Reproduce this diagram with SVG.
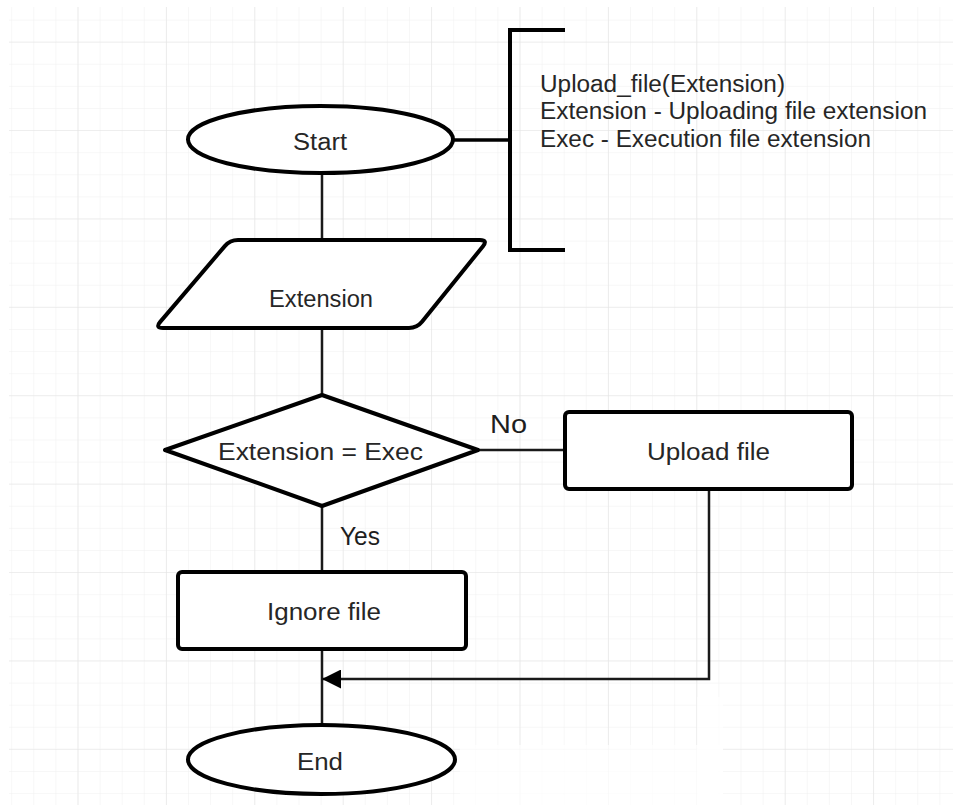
<svg xmlns="http://www.w3.org/2000/svg" width="953" height="805" viewBox="0 0 953 805">
  <defs>
    <style>
      .grid-minor { stroke: #efefef; stroke-width: 1; }
      .grid-major { stroke: #e4e4e4; stroke-width: 1.2; }
      .shape { fill: #ffffff; stroke: #000000; stroke-width: 4; stroke-linejoin: round; }
      .bracket { fill: none; stroke: #000000; stroke-width: 4; }
      .link { fill: none; stroke: #1a1a1a; stroke-width: 2.5; }
      .label { font-family: "Liberation Sans", Arial, sans-serif; font-size: 23px; fill: #262626; }
      .branch { font-family: "Liberation Sans", Arial, sans-serif; font-size: 26px; fill: #1e1e1e; }
    </style>
    <pattern id="minorGrid" x="11.2" y="19.6" width="22.1" height="22.1" patternUnits="userSpaceOnUse">
      <path d="M0,0 V22.1 M0,0 H22.1" class="grid-minor"/>
    </pattern>
    <pattern id="majorGrid" x="77.5" y="130" width="88.4" height="88.4" patternUnits="userSpaceOnUse">
      <path d="M0,0 V88.4 M0,0 H88.4" class="grid-major"/>
    </pattern>
    <marker id="arrow" viewBox="0 0 19 19" refX="18" refY="9.5" markerWidth="19" markerHeight="19" markerUnits="userSpaceOnUse" orient="auto">
      <path d="M0,0 L19,9.5 L0,19 Z" fill="#000000"/>
    </marker>
  </defs>

  <!-- page background and drawing grid -->
  <rect x="0" y="0" width="953" height="805" fill="#ffffff"/>
  <rect x="9" y="7" width="944" height="798" fill="url(#minorGrid)"/>
  <rect x="9" y="7" width="944" height="798" fill="url(#majorGrid)"/>
  <rect x="460" y="745" width="263" height="60" fill="#ffffff" opacity="0.7"/>
  <rect x="697" y="697" width="26" height="108" fill="#ffffff" opacity="0.7"/>

  <!-- connectors -->
  <g id="connectors">
    <path class="link" d="M322,173 V240"/>
    <path class="link" d="M322,328 V395"/>
    <path class="link" d="M478,450 H565"/>
    <path class="link" d="M322,506 V572"/>
    <path class="link" d="M322,649 V725"/>
    <path class="link" d="M709,489 V679 H323" marker-end="url(#arrow)"/>
    <path class="link" d="M453,140 H510" style="stroke:#000;stroke-width:3.5"/>
  </g>

  <!-- annotation bracket -->
  <g id="annotation">
    <path class="bracket" d="M565,30 H510 V250 H565"/>
    <text class="label" x="540" y="92" textLength="245" lengthAdjust="spacingAndGlyphs">Upload_file(Extension)</text>
    <text class="label" x="540" y="119" textLength="387" lengthAdjust="spacingAndGlyphs">Extension - Uploading file extension</text>
    <text class="label" x="540" y="147" textLength="331" lengthAdjust="spacingAndGlyphs">Exec - Execution file extension</text>
  </g>

  <g id="start">
    <ellipse class="shape" cx="320.5" cy="139.5" rx="132.5" ry="33.5"/>
    <text class="label" x="293" y="150" textLength="54" lengthAdjust="spacingAndGlyphs">Start</text>
  </g>

  <g id="input-extension">
    <path class="shape" d="M238,240 H480 Q488,240 483,246.2 L422,321.8 Q417,328 409,328 H163 Q155,328 160.2,321.9 L224.8,246.1 Q230,240 238,240 Z"/>
    <text class="label" x="269" y="307" textLength="104" lengthAdjust="spacingAndGlyphs">Extension</text>
  </g>

  <g id="decision">
    <path class="shape" d="M322,395 L478,450 L322,506 L165,450 Z"/>
    <text class="label" x="218" y="460" textLength="205" lengthAdjust="spacingAndGlyphs">Extension = Exec</text>
  </g>

  <g id="label-no">
    <text class="branch" x="490" y="433" textLength="37" lengthAdjust="spacingAndGlyphs">No</text>
  </g>

  <g id="label-yes">
    <text class="branch" x="340" y="545" textLength="40" lengthAdjust="spacingAndGlyphs">Yes</text>
  </g>

  <g id="upload-file">
    <rect class="shape" x="565" y="412" width="287" height="77" rx="4"/>
    <text class="label" x="647" y="460" textLength="123" lengthAdjust="spacingAndGlyphs">Upload file</text>
  </g>

  <g id="ignore-file">
    <rect class="shape" x="178" y="572" width="288" height="77" rx="4"/>
    <text class="label" x="267" y="620" textLength="114" lengthAdjust="spacingAndGlyphs">Ignore file</text>
  </g>

  <g id="end">
    <ellipse class="shape" cx="321.5" cy="759.5" rx="133.5" ry="34.5"/>
    <text class="label" x="297" y="770" textLength="46" lengthAdjust="spacingAndGlyphs">End</text>
  </g>
</svg>
